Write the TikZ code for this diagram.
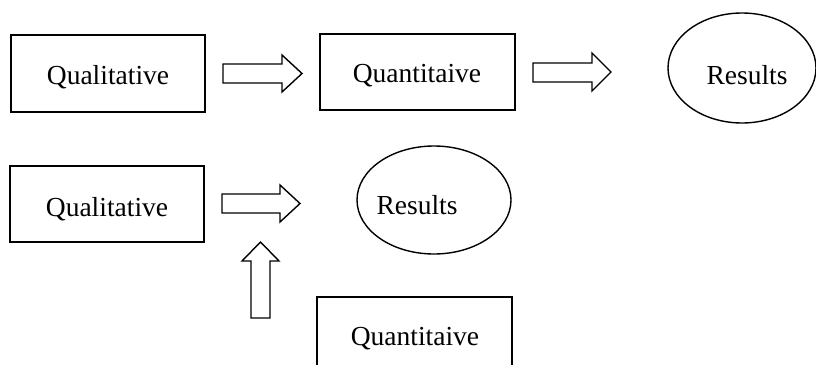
\documentclass[tikz,border=0pt]{standalone}
\usepackage{fontspec}
\setmainfont{Liberation Serif}
\begin{document}
\begin{tikzpicture}[x=1pt,y=-1pt,line width=1.4pt,
  lbl/.style={font=\fontsize{27.5}{32}\selectfont, inner sep=0pt},
  blk/.style={draw, line join=miter}]
\useasboundingbox (0,0) rectangle (816,364);
\begin{scope}
\clip (0,0) rectangle (816,364);
% top row
\draw[blk] (11,35) rectangle (205,112);
\node[lbl] (qual1) at (108,77) {Qualitative};
\draw[blk] (320,34) rectangle (515,110);
\node[lbl] (quan1) at (417,76) {Quantitaive};
\draw[blk] (742,68) ellipse [x radius=74, y radius=55];
\node[lbl] (res1) at (747,75) {Results};
\draw[blk] (223,64) -- (282,64) -- (282,55) -- (302,73.5) -- (282,92) -- (282,83) -- (223,83) -- cycle;
\draw[blk] (533,63) -- (592,63) -- (592,53) -- (611,72) -- (592,91) -- (592,82) -- (533,82) -- cycle;
% bottom row
\draw[blk] (10,166) rectangle (204,242);
\node[lbl] (qual2) at (107,209) {Qualitative};
\draw[blk] (434,200) ellipse [x radius=77, y radius=54];
\node[lbl] (res2) at (417,205) {Results};
\draw[blk] (317,297) rectangle (512,380);
\node[lbl] (quan2) at (415,339) {Quantitaive};
\draw[blk] (222,194) -- (280,194) -- (280,185) -- (300,203.5) -- (280,222) -- (280,213) -- (222,213) -- cycle;
\draw[blk] (251,318) -- (251,261) -- (242,261) -- (260.5,242) -- (279,261) -- (270,261) -- (270,318) -- cycle;
\end{scope}
\end{tikzpicture}
\end{document}
